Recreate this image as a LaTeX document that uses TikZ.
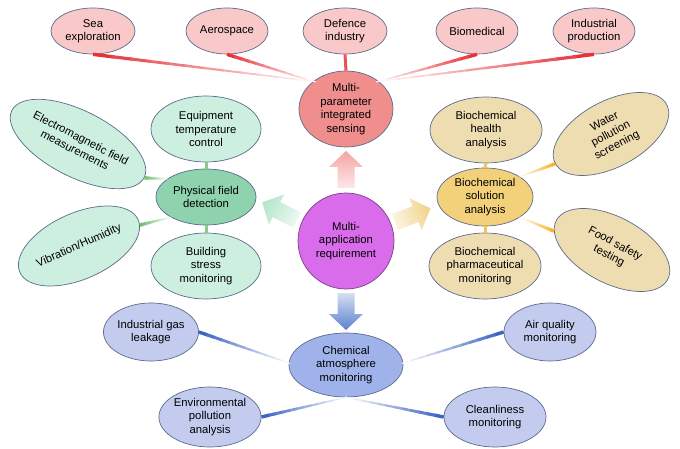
\documentclass[tikz,border=0pt]{standalone}
\usepackage{fontspec}
\setmainfont{Liberation Sans}
\usetikzlibrary{shapes.geometric,calc}
\definecolor{bord}{HTML}{5B6B8C}
\definecolor{pinkL}{HTML}{F9C8C8}
\definecolor{pinkD}{HTML}{F08D8D}
\definecolor{purp}{HTML}{D96CEA}
\definecolor{purpB}{HTML}{7A3D8A}
\definecolor{greenL}{HTML}{CDEFDF}
\definecolor{greenD}{HTML}{8ED2AE}
\definecolor{tanL}{HTML}{EEDDB0}
\definecolor{tanD}{HTML}{F2D17A}
\definecolor{blueL}{HTML}{C3CCEE}
\definecolor{blueD}{HTML}{9FB3EA}
\definecolor{lnRed}{HTML}{E8323A}
\definecolor{lnGreen}{HTML}{6DBE6D}
\definecolor{lnYel}{HTML}{F5B52A}
\definecolor{lnBlue}{HTML}{3C64C4}
\definecolor{arUp}{HTML}{F5A3A3}
\definecolor{arLf}{HTML}{B5E6CC}
\definecolor{arRg}{HTML}{F2D38C}
\definecolor{arDn}{HTML}{5B7FD0}
\newcommand{\fadeconn}[3]{%
  \foreach \ii in {0,...,11}{%
    \pgfmathsetmacro{\fs}{\ii/12}%
    \pgfmathsetmacro{\fe}{(\ii+1.15)/12}%
    \pgfmathtruncatemacro{\fc}{100-\ii*8.5}%
    \pgfmathsetmacro{\fw}{3.4-\ii*0.2}%
    \draw[#3!\fc!white, line width=\fw pt, line cap=butt] ($(#1)!\fs!(#2)$) -- ($(#1)!\fe!(#2)$);
  }}
\newcommand{\bigarrow}[6]{% name, x, y, angle, length, tip color
  \begin{scope}[shift={(#2,#3)}, rotate=#4]
    \shade[top color=#6, bottom color=#6!25!white, shading angle=#4-90]
      (0,-8.5) -- ({#5-16},-8.5) -- ({#5-16},-17) -- (#5,0) -- ({#5-16},17) -- ({#5-16},8.5) -- (0,8.5) -- cycle;
    \coordinate (#1) at (#5,0);
  \end{scope}}
\begin{document}
\begin{tikzpicture}[x=1pt,y=-1pt,
  bub/.style={ellipse, draw=bord, line width=0.7pt, inner sep=0pt, align=center,
    font=\fontsize{11.3}{13.4}\selectfont},
  sz/.style 2 args={minimum width=#1pt, minimum height=#2pt},
  shortln/.style={line width=3pt}]
\useasboundingbox (0,0) rectangle (680,449);
% arrows
\bigarrow{aup}{346}{188}{90}{37}{arUp}
\bigarrow{alf}{297}{220}{153}{39}{arLf}
\bigarrow{arg}{395}{222}{21}{38}{arRg}
\bigarrow{adn}{346}{293}{270}{37}{arDn}
% nodes
\node[bub, fill=pinkL, sz={84}{46}] (sea) at (93,31) {Sea\\exploration};
\node[bub, fill=pinkL, sz={82}{46}] (aero) at (227,31) {Aerospace};
\node[bub, fill=pinkL, sz={84}{46}] (def) at (345,31) {Defence\\industry};
\node[bub, fill=pinkL, sz={82}{46}] (bio) at (477,31) {Biomedical};
\node[bub, fill=pinkL, sz={82}{46}] (indp) at (594,31) {Industrial\\production};
\node[bub, fill=pinkD, sz={94}{76}] (mp) at (346,109) {Multi-\\parameter\\integrated\\sensing};
\node[bub, circle, draw=purpB, fill=purp, minimum size=96pt] (ma) at (346,241) {Multi-\\application\\requirement};
\node[bub, fill=greenD, sz={100}{56}] (pf) at (206,197) {Physical field\\detection};
\node[bub, fill=greenL, sz={110}{66}] (eq) at (206,129) {Equipment\\temperature\\control};
\node[bub, fill=greenL, sz={110}{66}] (bs) at (206,266) {Building\\stress\\monitoring};
\node[bub, fill=greenL, sz={126}{66}, rotate=-27] (em) at (78,144) {Electromagnetic field\\measurements};
\node[bub, fill=greenL, sz={126}{66}, rotate=24] (vh) at (79,246) {Vibration/Humidity};
\node[bub, fill=tanD, sz={96}{58}] (bsa) at (485,197) {Biochemical\\solution\\analysis};
\node[bub, fill=tanL, sz={112}{66}] (bha) at (486,130) {Biochemical\\health\\analysis};
\node[bub, fill=tanL, sz={112}{66}] (bpm) at (485,266) {Biochemical\\pharmaceutical\\monitoring};
\node[bub, fill=tanL, sz={126}{66}, rotate=28] (wps) at (611,134) {Water\\pollution\\screening};
\node[bub, fill=tanL, sz={126}{66}, rotate=-28] (fst) at (612,250) {Food safety\\testing};
\node[bub, fill=blueD, sz={114}{64}] (cam) at (346,365) {Chemical\\atmosphere\\monitoring};
\node[bub, fill=blueL, sz={92}{58}] (igl) at (151,332) {Industrial gas\\leakage};
\node[bub, fill=blueL, sz={92}{58}] (aqm) at (550,332) {Air quality\\monitoring};
\node[bub, fill=blueL, sz={102}{60}] (epa) at (210,417) {Environmental\\pollution\\analysis};
\node[bub, fill=blueL, sz={102}{60}] (clm) at (495,417) {Cleanliness\\monitoring};
% connectors
\fadeconn{sea.south}{mp.140}{lnRed}
\fadeconn{aero.south}{mp.140}{lnRed}
\fadeconn{bio.south}{mp.40}{lnRed}
\fadeconn{indp.south}{mp.40}{lnRed}
\draw[shortln, lnRed!85!white] (def.south) -- (mp.north);
\fadeconn{em.0}{pf.155}{lnGreen}
\fadeconn{vh.-5}{pf.210}{lnGreen}
\draw[shortln, lnGreen!80!white] (eq.south) -- (pf.north);
\draw[shortln, lnGreen!80!white] (pf.south) -- (bs.north);
\fadeconn{wps.180}{bsa.30}{lnYel}
\fadeconn{fst.190}{bsa.-30}{lnYel}
\draw[shortln, lnYel!80!white] (bha.south) -- (bsa.north);
\draw[shortln, lnYel!80!white] (bsa.south) -- (bpm.north);
\fadeconn{igl.east}{cam.178}{lnBlue}
\fadeconn{aqm.west}{cam.2}{lnBlue}
\fadeconn{epa.east}{cam.south}{lnBlue}
\fadeconn{clm.west}{cam.south}{lnBlue}
\end{tikzpicture}
\end{document}
